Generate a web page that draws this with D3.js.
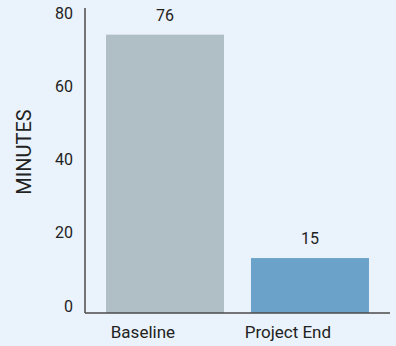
<!DOCTYPE html>
<html>
<head>
<meta charset="utf-8">
<script src="https://cdn.jsdelivr.net/npm/d3@7"></script>
<style>
  html, body { margin: 0; padding: 0; background: #eaf3fb; }
  svg { display: block; font-family: Roboto, "Noto Sans", sans-serif; }
</style>
</head>
<body>
<svg id="chart" width="396" height="346"></svg>
<script>
// data
var categories = ["Baseline", "Project End"];
var minutes = [76, 15];
var barColors = ["#b0bec5", "#6ba2c9"];
var yTicks = [0, 20, 40, 60, 80];

var width = 396, height = 346;
var plotLeft = 85, plotRight = 390, plotTop = 8, plotBottom = 313;

var svg = d3.select("#chart");

svg.append("rect")
  .attr("width", width)
  .attr("height", height)
  .attr("fill", "#eaf3fb");

var x = d3.scaleBand()
  .domain(categories)
  .range([plotLeft, plotRight])
  .paddingInner(0.186)
  .paddingOuter(0.145);

var y = d3.scaleLinear()
  .domain([0, 80])
  .range([plotBottom, 20]);

// bars
svg.selectAll("rect.bar")
  .data(categories)
  .enter().append("rect")
  .attr("class", "bar")
  .attr("x", function(d){ return x(d); })
  .attr("width", x.bandwidth())
  .attr("y", function(d, i){ return y(minutes[i]); })
  .attr("height", function(d, i){ return y(0) - y(minutes[i]); })
  .attr("fill", function(d, i){ return barColors[i]; });

// value labels
svg.selectAll("text.val")
  .data(categories)
  .enter().append("text")
  .attr("class", "val")
  .attr("x", function(d){ return x(d) + x.bandwidth() / 2; })
  .attr("y", function(d, i){ return y(minutes[i]) - 14; })
  .attr("text-anchor", "middle")
  .attr("font-size", 16)
  .attr("fill", "#222")
  .text(function(d, i){ return minutes[i]; });

// y axis (labels only, line drawn separately)
var yAxis = svg.append("g")
  .attr("transform", "translate(" + plotLeft + ",0)")
  .call(d3.axisLeft(y).tickValues(yTicks).tickSize(0).tickPadding(12));
yAxis.select(".domain").remove();
yAxis.selectAll("text")
  .attr("font-size", 16)
  .attr("font-family", "Roboto, sans-serif")
  .attr("fill", "#222")
  .attr("dy", "-0.12em");

// x axis labels
var xAxis = svg.append("g")
  .attr("transform", "translate(0," + plotBottom + ")")
  .call(d3.axisBottom(x).tickSize(0).tickPadding(13));
xAxis.select(".domain").remove();
xAxis.selectAll("text")
  .attr("font-size", 17)
  .attr("font-family", "Roboto, sans-serif")
  .attr("fill", "#222")
  .attr("dx", "-1.3em");

// axis lines
svg.append("line")
  .attr("x1", plotLeft).attr("x2", plotLeft)
  .attr("y1", plotTop).attr("y2", plotBottom)
  .attr("stroke", "#4a4a4a").attr("stroke-width", 1.5);
svg.append("line")
  .attr("x1", plotLeft).attr("x2", plotRight)
  .attr("y1", plotBottom).attr("y2", plotBottom)
  .attr("stroke", "#4a4a4a").attr("stroke-width", 1.5);

// y title
svg.append("text")
  .attr("transform", "translate(31," + 152 + ") rotate(-90)")
  .attr("text-anchor", "middle")
  .attr("font-size", 20)
  .attr("fill", "#222")
  .text("MINUTES");
</script>
</body>
</html>
